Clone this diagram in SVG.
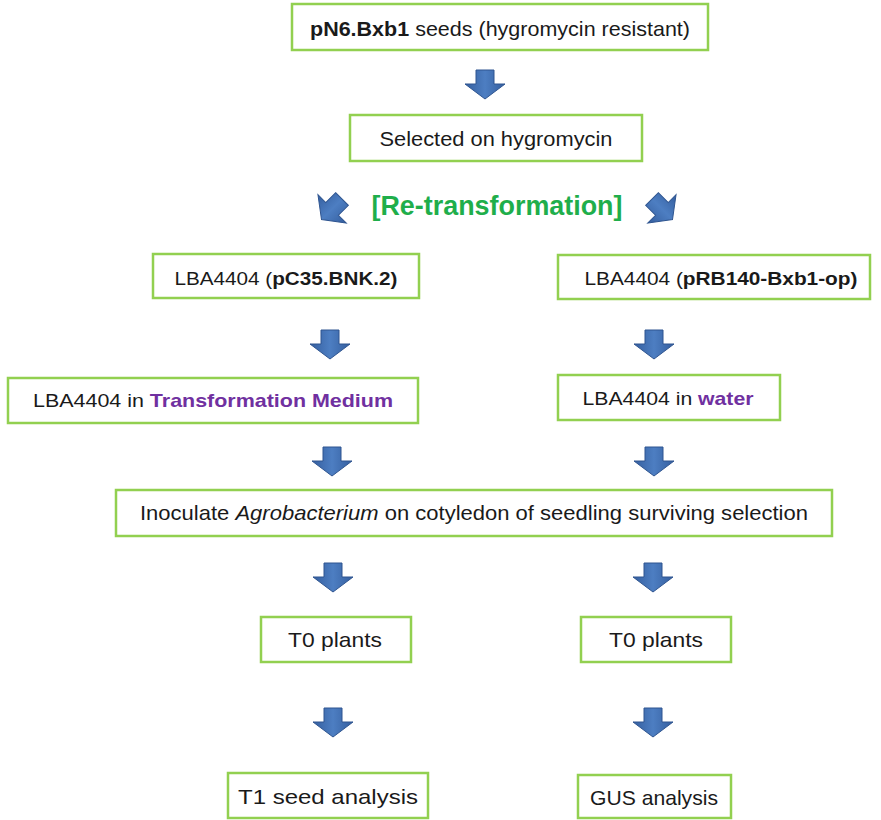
<svg xmlns="http://www.w3.org/2000/svg" width="881" height="820" viewBox="0 0 881 820">
  <defs>
    <linearGradient id="arrowFill" x1="0" y1="0" x2="1" y2="0">
      <stop offset="0" stop-color="#355f9f"/>
      <stop offset="0.5" stop-color="#4d7ec2"/>
      <stop offset="1" stop-color="#355f9f"/>
    </linearGradient>
    <path id="downArrow" d="M -9,0 H 9 V 14 H 20 L 0,29 L -20,14 H -9 Z"/>
  </defs>
  <style>
    .box { fill: #ffffff; stroke: #92d050; stroke-width: 2.5; }
    .lbl { font-family: "Liberation Sans", Arial, sans-serif; font-size: 19px; fill: #1a1a1a; text-anchor: middle; }
    .big { font-size: 21px; }
    .b { font-weight: bold; }
    .purple { fill: #7030a0; font-weight: bold; }
    .green { font-family: "Liberation Sans", Arial, sans-serif; font-size: 27px; font-weight: bold; fill: #1fae4b; text-anchor: middle; }
    .arrow { fill: url(#arrowFill); stroke: #2f5590; stroke-width: 1; }
  </style>
  <rect width="881" height="820" fill="#ffffff"/>

  <g id="connectors">
    <use href="#downArrow" class="arrow" transform="translate(485,70)"/>
    <use href="#downArrow" class="arrow" transform="translate(342,199) rotate(45)"/>
    <use href="#downArrow" class="arrow" transform="translate(652,199) rotate(-45)"/>
    <use href="#downArrow" class="arrow" transform="translate(330,330)"/>
    <use href="#downArrow" class="arrow" transform="translate(654,330)"/>
    <use href="#downArrow" class="arrow" transform="translate(332,447)"/>
    <use href="#downArrow" class="arrow" transform="translate(654,447)"/>
    <use href="#downArrow" class="arrow" transform="translate(333,563)"/>
    <use href="#downArrow" class="arrow" transform="translate(653,563)"/>
    <use href="#downArrow" class="arrow" transform="translate(333,708)"/>
    <use href="#downArrow" class="arrow" transform="translate(653,708)"/>
  </g>

  <g id="seeds">
    <rect class="box" x="292" y="4" width="416" height="46"/>
    <text class="lbl big" x="500" y="36" textLength="380" lengthAdjust="spacingAndGlyphs"><tspan class="b">pN6.Bxb1</tspan> seeds (hygromycin resistant)</text>
  </g>

  <g id="selected">
    <rect class="box" x="350" y="115" width="292" height="46"/>
    <text class="lbl big" x="496" y="146" textLength="233" lengthAdjust="spacingAndGlyphs">Selected on hygromycin</text>
  </g>

  <g id="retransformation">
    <text class="green" x="497" y="215" textLength="251" lengthAdjust="spacingAndGlyphs">[Re-transformation]</text>
  </g>

  <g id="lba-pc35">
    <rect class="box" x="153" y="254" width="266" height="44"/>
    <text class="lbl" x="286" y="285" textLength="223" lengthAdjust="spacingAndGlyphs">LBA4404 (<tspan class="b">pC35.BNK.2)</tspan></text>
  </g>

  <g id="lba-prb140">
    <rect class="box" x="558" y="255" width="312" height="44"/>
    <text class="lbl" x="721" y="285" textLength="273" lengthAdjust="spacingAndGlyphs">LBA4404 (<tspan class="b">pRB140-Bxb1-op)</tspan></text>
  </g>

  <g id="lba-medium">
    <rect class="box" x="8" y="378" width="410" height="45"/>
    <text class="lbl" x="213" y="407" textLength="360" lengthAdjust="spacingAndGlyphs">LBA4404 in <tspan class="purple">Transformation Medium</tspan></text>
  </g>

  <g id="lba-water">
    <rect class="box" x="558" y="375" width="222" height="45"/>
    <text class="lbl" x="668" y="405" textLength="171" lengthAdjust="spacingAndGlyphs">LBA4404 in <tspan class="purple">water</tspan></text>
  </g>

  <g id="inoculate">
    <rect class="box" x="116" y="490" width="716" height="46"/>
    <text class="lbl big" x="474" y="520" textLength="668" lengthAdjust="spacingAndGlyphs">Inoculate <tspan font-style="italic">Agrobacterium</tspan> on cotyledon of seedling surviving selection</text>
  </g>

  <g id="t0-left">
    <rect class="box" x="261" y="617" width="150" height="45"/>
    <text class="lbl big" x="335" y="647" textLength="94" lengthAdjust="spacingAndGlyphs">T0 plants</text>
  </g>

  <g id="t0-right">
    <rect class="box" x="581" y="617" width="150" height="45"/>
    <text class="lbl big" x="656" y="647" textLength="94" lengthAdjust="spacingAndGlyphs">T0 plants</text>
  </g>

  <g id="t1-seed">
    <rect class="box" x="228" y="773" width="200" height="45"/>
    <text class="lbl big" x="328" y="804" textLength="180" lengthAdjust="spacingAndGlyphs">T1 seed analysis</text>
  </g>

  <g id="gus">
    <rect class="box" x="578" y="775" width="153" height="43"/>
    <text class="lbl big" x="654" y="805" textLength="128" lengthAdjust="spacingAndGlyphs">GUS analysis</text>
  </g>
</svg>
